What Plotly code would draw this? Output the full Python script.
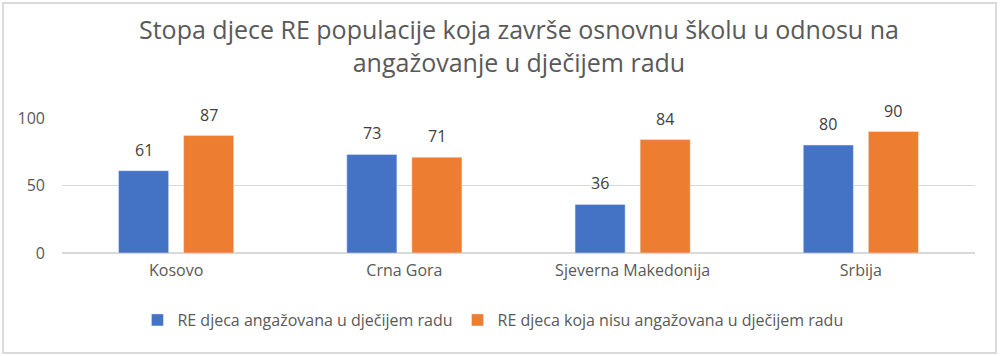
import plotly.graph_objects as go

categories = ["Kosovo", "Crna Gora", "Sjeverna Makedonija", "Srbija"]
engaged = [61, 73, 36, 80]
not_engaged = [87, 71, 84, 90]
series_names = ["RE djeca angažovana u dječijem radu", "RE djeca koja nisu angažovana u dječijem radu"]
title_text = "Stopa djece RE populacije koja završe osnovnu školu u odnosu na<br>angažovanje u dječijem radu"

W, H = 1000, 356
L, R, T, B = 62, 25, 118, 103
PW, PH = W - L - R, H - T - B

def px_x(p):
    return (p - L) / PW

def px_y(p):
    return (H - B - p) / PH

fig = go.Figure()
fig.add_trace(go.Bar(x=categories, y=engaged, name=series_names[0], marker_color="#4472C4"))
fig.add_trace(go.Bar(x=categories, y=not_engaged, name=series_names[1], marker_color="#ED7D31"))

# data labels, placed at each bar value
for vals, dx in ((engaged, -32.5), (not_engaged, 32.5)):
    for c, v in zip(categories, vals):
        fig.add_annotation(x=c, y=v, xref="x", yref="y", text=str(v), showarrow=False,
                           xshift=dx, yshift=21, yanchor="middle",
                           font=dict(size=16, color="#404040", family="Open Sans"))

# title
fig.add_annotation(x=0.5, y=px_y(45), xref="paper", yref="paper", text=title_text,
                   showarrow=False, xanchor="center", yanchor="middle", align="center",
                   font=dict(size=25, color="#595959", family="Open Sans"))

# outer frame
fig.add_shape(type="rect", xref="paper", yref="paper",
              x0=px_x(3), x1=px_x(996), y0=px_y(353), y1=px_y(3),
              line=dict(color="#DADADA", width=2), fillcolor="rgba(0,0,0,0)", layer="below")

fig.update_layout(
    width=W, height=H,
    margin=dict(l=L, r=R, t=T, b=B),
    paper_bgcolor="white", plot_bgcolor="white",
    font=dict(family="Open Sans", color="#595959"),
    barmode="group", bargap=0.43, bargroupgap=0.23,
    showlegend=True,
    legend=dict(orientation="h", x=0.472, xanchor="center", y=px_y(320), yanchor="middle",
                font=dict(size=16, color="#595959"), itemwidth=30,
                traceorder="normal"),
    yaxis=dict(range=[0, 100], tickvals=[0, 50, 100], showgrid=True, gridcolor="#D9D9D9",
               zeroline=True, zerolinecolor="#D9D9D9", tickfont=dict(size=16, color="#595959"),
               ticks="", ticklabelstandoff=16, fixedrange=True),
    xaxis=dict(tickfont=dict(size=16, color="#595959"), showline=False, ticks="",
               ticklabelstandoff=6, fixedrange=True),
)

fig.write_html("out.html", config={"displayModeBar": False},
               post_script="document.body.style.margin='0';")
